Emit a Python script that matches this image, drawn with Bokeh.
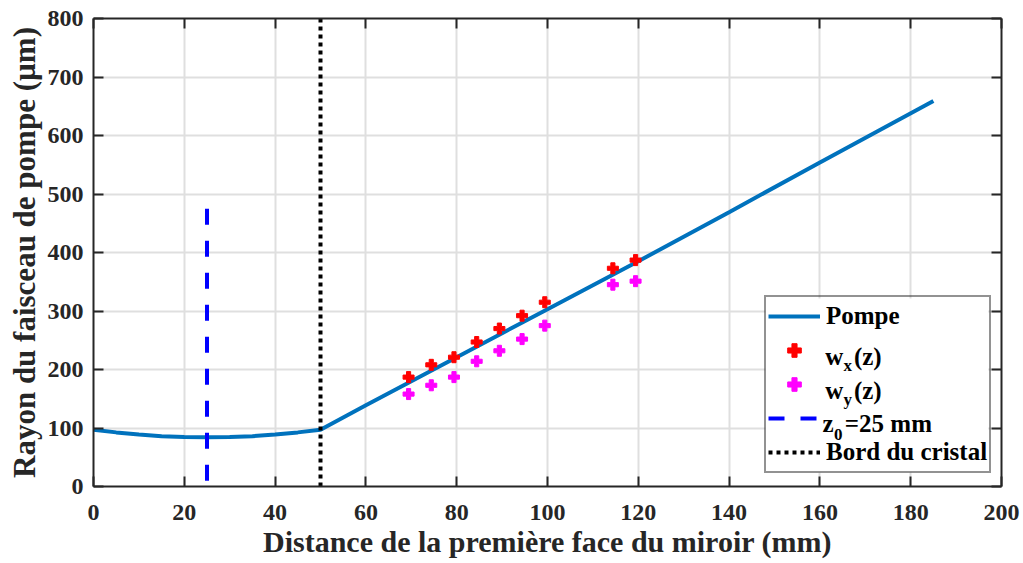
from bokeh.plotting import figure
from bokeh.models import (Range1d, LinearAxis, FixedTicker, Legend, LegendItem,
                          Label, CustomJSTickFormatter, BoxAnnotation)
from bokeh.embed import file_html
from bokeh.resources import INLINE

# ---- data ----
z_pump = [0, 5, 10, 15, 20, 25, 30, 35, 40, 45, 50, 60, 70, 80, 90, 100, 120, 140, 160, 185]
w_pump = [97, 92.5, 89, 86, 84.5, 84, 84.5, 86, 89, 92.5, 97, 139, 180, 221, 262, 303, 385, 469, 554, 659]

z_meas = [69.4, 74.4, 79.4, 84.4, 89.4, 94.4, 99.4, 114.4, 119.4]
wx_meas = [187, 208, 221, 247, 270, 292, 315, 373, 387]
wy_meas = [158, 173, 187, 214, 232, 252, 275, 345, 351]

z0_pos = [25, 25]
z0_span = [475, 0]
crystal_pos = [50, 50]
crystal_span = [0, 800]

x_ticks = [0, 20, 40, 60, 80, 100, 120, 140, 160, 180, 200]
y_ticks = [0, 100, 200, 300, 400, 500, 600, 700, 800]

FONT = "Liberation Serif"
TXT = "#262626"

p = figure(width=1020, height=560, x_range=Range1d(0, 200), y_range=Range1d(0, 800),
           output_backend="svg", toolbar_location=None,
           min_border_left=93, min_border_right=19, min_border_top=18, min_border_bottom=74)
p.outline_line_color = None
p.background_fill_color = "white"

bottom_ax = p.below[0]
left_ax = p.left[0]

p.xgrid.ticker = FixedTicker(ticks=x_ticks)
p.ygrid.ticker = FixedTicker(ticks=y_ticks)
for g in (p.xgrid, p.ygrid):
    g.grid_line_color = "#dfdfdf"
    g.grid_line_width = 2

top_ax = LinearAxis()
right_ax = LinearAxis()
p.add_layout(top_ax, "above")
p.add_layout(right_ax, "right")

for ax in (bottom_ax, top_ax):
    ax.ticker = FixedTicker(ticks=x_ticks)
for ax in (left_ax, right_ax):
    ax.ticker = FixedTicker(ticks=y_ticks)

for ax in (bottom_ax, left_ax, top_ax, right_ax):
    ax.axis_line_color = TXT
    ax.axis_line_width = 2
    ax.major_tick_in = 10
    ax.major_tick_out = 0
    ax.major_tick_line_width = 2
    ax.major_tick_line_color = TXT
    ax.minor_tick_line_color = None
    ax.major_label_text_font = FONT
    ax.major_label_text_font_style = "bold"
    ax.major_label_text_color = TXT
    ax.major_label_text_font_size = "24px"

for ax in (top_ax, right_ax):
    ax.formatter = CustomJSTickFormatter(code="return ''")
    ax.major_label_text_font_size = "1px"
    ax.major_label_standoff = 0

bottom_ax.major_label_standoff = 18
left_ax.major_label_standoff = 10
bottom_ax.axis_label = "Distance de la première face du miroir (mm)"
left_ax.axis_label = "Rayon du faisceau de pompe (µm)"
for ax in (bottom_ax, left_ax):
    ax.axis_label_text_font = FONT
    ax.axis_label_text_font_style = "bold"
    ax.axis_label_text_color = TXT
bottom_ax.axis_label_text_font_size = "30px"
left_ax.axis_label_text_font_size = "31px"
bottom_ax.axis_label_standoff = 2
left_ax.axis_label_standoff = 3

r_pump = p.line(z_pump, w_pump, line_color="#0072BD", line_width=4)
r_wx = p.scatter(z_meas, wx_meas, marker="plus", size=11, fill_color="#FF0000", line_color="#FF0000")
r_wy = p.scatter(z_meas, wy_meas, marker="plus", size=11, fill_color="#FF00FF", line_color="#FF00FF")
r_z0 = p.line(z0_pos, z0_span, line_color="#0000FF", line_width=4, line_dash="16 16")
r_cr = p.line(crystal_pos, crystal_span, line_color="black", line_width=4, line_dash="4 4")

# white backing for the legend (covers grid lines)
p.add_layout(BoxAnnotation(left=148.0, right=197.1, top=321.4, bottom=23.9,
                           fill_color="white", fill_alpha=1, line_color=None, level="glyph"))

legend = Legend(items=[
    LegendItem(label="Pompe", renderers=[r_pump]),
    LegendItem(label=" ", renderers=[r_wx]),
    LegendItem(label=" ", renderers=[r_wy]),
    LegendItem(label=" ", renderers=[r_z0]),
    LegendItem(label="Bord du cristal", renderers=[r_cr]),
], location=(671, 13))
legend.padding = 2
legend.spacing = 0
legend.margin = 0
legend.glyph_width = 52
legend.glyph_height = 34
legend.label_height = 34
legend.label_width = 160
legend.label_standoff = 6
legend.label_text_font = FONT
legend.label_text_font_style = "bold"
legend.label_text_font_size = "25px"
legend.label_text_color = "black"
legend.border_line_color = TXT
legend.border_line_width = 2
legend.background_fill_alpha = 0
p.add_layout(legend, "center")

def lab(x, y, text, size):
    p.add_layout(Label(x=x, y=y, text=text, text_font=FONT, text_font_style="bold",
                       text_font_size=size, text_color="black", text_baseline="alphabetic",
                       level="overlay"))

lab(161.2, 222.2, "w", "25px")
lab(165.2, 206.0, "x", "17px")
lab(167.5, 222.2, "(z)", "25px")
lab(161.2, 164.1, "w", "25px")
lab(165.2, 147.9, "y", "17px")
lab(167.5, 164.1, "(z)", "25px")
lab(160.6, 107.7, "z", "25px")
lab(163.1, 88.4, "0", "17px")
lab(165.5, 107.7, "=25 mm", "25px")

open("out.html", "w").write(file_html(p, INLINE))
